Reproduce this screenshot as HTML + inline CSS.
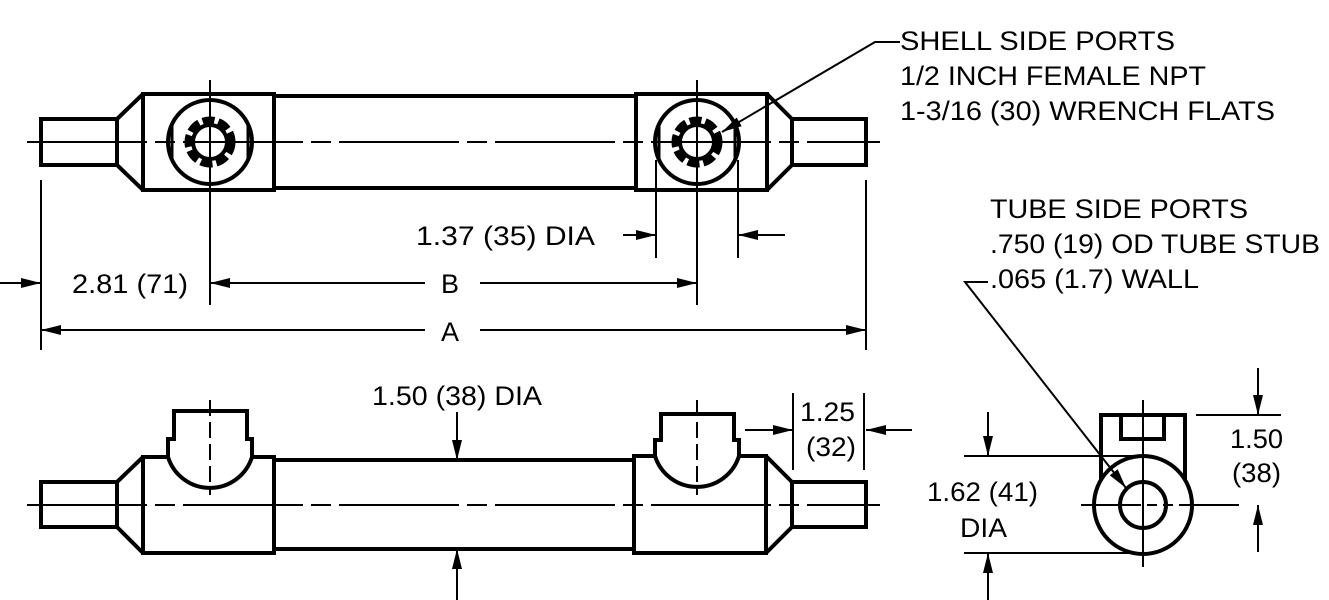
<!DOCTYPE html>
<html><head><meta charset="utf-8"><style>
html,body{margin:0;padding:0;background:#fff;}
svg{display:block;}
text{font-family:"Liberation Sans",Arial,sans-serif;fill:#000;}
</style></head><body>
<svg width="1329" height="600" viewBox="0 0 1329 600" xmlns="http://www.w3.org/2000/svg">
<defs>
<marker id="ar" viewBox="0 0 20 10" refX="20" refY="5" markerWidth="20" markerHeight="10" markerUnits="userSpaceOnUse" orient="auto"><path d="M0,0 L20,5 L0,10 Z" fill="#000"/></marker>
</defs>
<g fill="none" stroke="#000">
<g stroke-width="4">
<rect x="41" y="119" width="76" height="46"/>
<path d="M117,119 L143,94 M117,165 L143,190 M117,119 L117,165"/>
<rect x="143" y="94" width="131" height="96"/>
<path d="M274,96 L636,96 M274,188 L636,188"/>
<rect x="636" y="94" width="131" height="96"/>
<path d="M767,94 L792,119 M767,190 L792,165"/>
<rect x="792" y="119" width="74" height="46"/>
<circle cx="210" cy="142" r="42"/>
<circle cx="697" cy="142" r="42"/>
<circle cx="210" cy="142" r="17"/>
<circle cx="697" cy="142" r="17"/>
</g>
<circle cx="210" cy="142" r="22" stroke-width="7" stroke-dasharray="12 4"/>
<circle cx="697" cy="142" r="22" stroke-width="7" stroke-dasharray="12 4"/>
<path d="M172,125 L172,159 M248,125 L248,159 M659,125 L659,159 M735,125 L735,159" stroke-width="3"/>
<g stroke-width="2">
<path d="M27,142 L880,142" stroke-dasharray="120 8 20 8"/>
<path d="M210,80 L210,305 M697,80 L697,305 M41,180 L41,350 M866,180 L866,350 M656,160 L656,258 M738,160 L738,258"/>
<path d="M785,235 L738,235" marker-end="url(#ar)"/>
<path d="M623,235 L656,235" marker-end="url(#ar)"/>
<path d="M0,283 L41,283" marker-end="url(#ar)"/>
<path d="M425,283 L210,283" marker-end="url(#ar)"/>
<path d="M480,283 L697,283" marker-end="url(#ar)"/>
<path d="M425,330 L41,330" marker-end="url(#ar)"/>
<path d="M480,330 L866,330" marker-end="url(#ar)"/>
<path d="M900,42 L875,42 L722,132" marker-end="url(#ar)"/>
</g>
<g stroke-width="4">
<rect x="41" y="482" width="76" height="45"/>
<path d="M117,482 L143,457 M117,527 L143,553 M117,482 L117,527"/>
<rect x="143" y="457" width="131" height="96"/>
<path d="M274,460 L634,460 M274,549 L634,549"/>
<rect x="634" y="456" width="132" height="97"/>
<path d="M766,456 L792,482 M766,553 L792,527"/>
<rect x="792" y="482" width="74" height="45"/>
<path d="M168,457 L168,439 L174,439 L174,411 L247,411 L247,439 L252,439 L252,457 A44,44 0 0 1 168,457" fill="#fff"/>
<path d="M655,456 L655,440 L661,440 L661,414 L734,414 L734,440 L739,440 L739,456 A44,44 0 0 1 655,456" fill="#fff"/>
</g>
<g stroke-width="2">
<path d="M27,505 L880,505" stroke-dasharray="120 8 20 8"/>
<path d="M210,400 L210,495 M697,400 L697,495" stroke-dasharray="16 6"/>
<path d="M457,412 L457,460" marker-end="url(#ar)"/>
<path d="M457,600 L457,549" marker-end="url(#ar)"/>
<path d="M793,393 L793,470 M864,393 L864,470"/>
<path d="M745,430 L793,430" marker-end="url(#ar)"/>
<path d="M912,430 L866,430" marker-end="url(#ar)"/>
</g>
<g stroke-width="4">
<path d="M1101,485 L1101,415 L1185,415 L1185,485"/>
<path d="M1121,415 L1121,439 L1164,439 L1164,415"/>
<circle cx="1143" cy="505" r="49" fill="#fff"/>
<circle cx="1143" cy="505" r="23"/>
</g>
<g stroke-width="2">
<path d="M1081,505 L1283,505" stroke-dasharray="60 6 10 6 10 6 60"/>
<path d="M1143,400 L1143,567"/>
<path d="M964,456 L1143,456 M964,553 L1143,553 M1196,415 L1281,415"/>
<path d="M988,412 L988,456" marker-end="url(#ar)"/>
<path d="M988,600 L988,553" marker-end="url(#ar)"/>
<path d="M1258,368 L1258,415" marker-end="url(#ar)"/>
<path d="M1258,552 L1258,505" marker-end="url(#ar)"/>
<path d="M988,282 L965,282 L1126,488" marker-end="url(#ar)"/>
</g>
</g>
<g font-size="27">
<text x="900" y="50" textLength="275" lengthAdjust="spacingAndGlyphs">SHELL SIDE PORTS</text>
<text x="900" y="85" textLength="306" lengthAdjust="spacingAndGlyphs">1/2 INCH FEMALE NPT</text>
<text x="900" y="120" textLength="375" lengthAdjust="spacingAndGlyphs">1-3/16 (30) WRENCH FLATS</text>
<text x="990" y="218" textLength="258" lengthAdjust="spacingAndGlyphs">TUBE SIDE PORTS</text>
<text x="990" y="253" textLength="330" lengthAdjust="spacingAndGlyphs">.750 (19) OD TUBE STUB</text>
<text x="990" y="288" textLength="209" lengthAdjust="spacingAndGlyphs">.065 (1.7) WALL</text>
<text x="416" y="245" textLength="179" lengthAdjust="spacingAndGlyphs">1.37 (35) DIA</text>
<text x="72" y="293" textLength="116" lengthAdjust="spacingAndGlyphs">2.81 (71)</text>
<text x="441" y="293">B</text>
<text x="441" y="341">A</text>
<text x="372" y="405" textLength="170" lengthAdjust="spacingAndGlyphs">1.50 (38) DIA</text>
<text x="800" y="421" textLength="55" lengthAdjust="spacingAndGlyphs">1.25</text>
<text x="806" y="456" textLength="50" lengthAdjust="spacingAndGlyphs">(32)</text>
<text x="927" y="501" textLength="111" lengthAdjust="spacingAndGlyphs">1.62 (41)</text>
<text x="960" y="537" textLength="47" lengthAdjust="spacingAndGlyphs">DIA</text>
<text x="1230" y="448" textLength="53" lengthAdjust="spacingAndGlyphs">1.50</text>
<text x="1232" y="482" textLength="49" lengthAdjust="spacingAndGlyphs">(38)</text>
</g>
</svg>
</body></html>
